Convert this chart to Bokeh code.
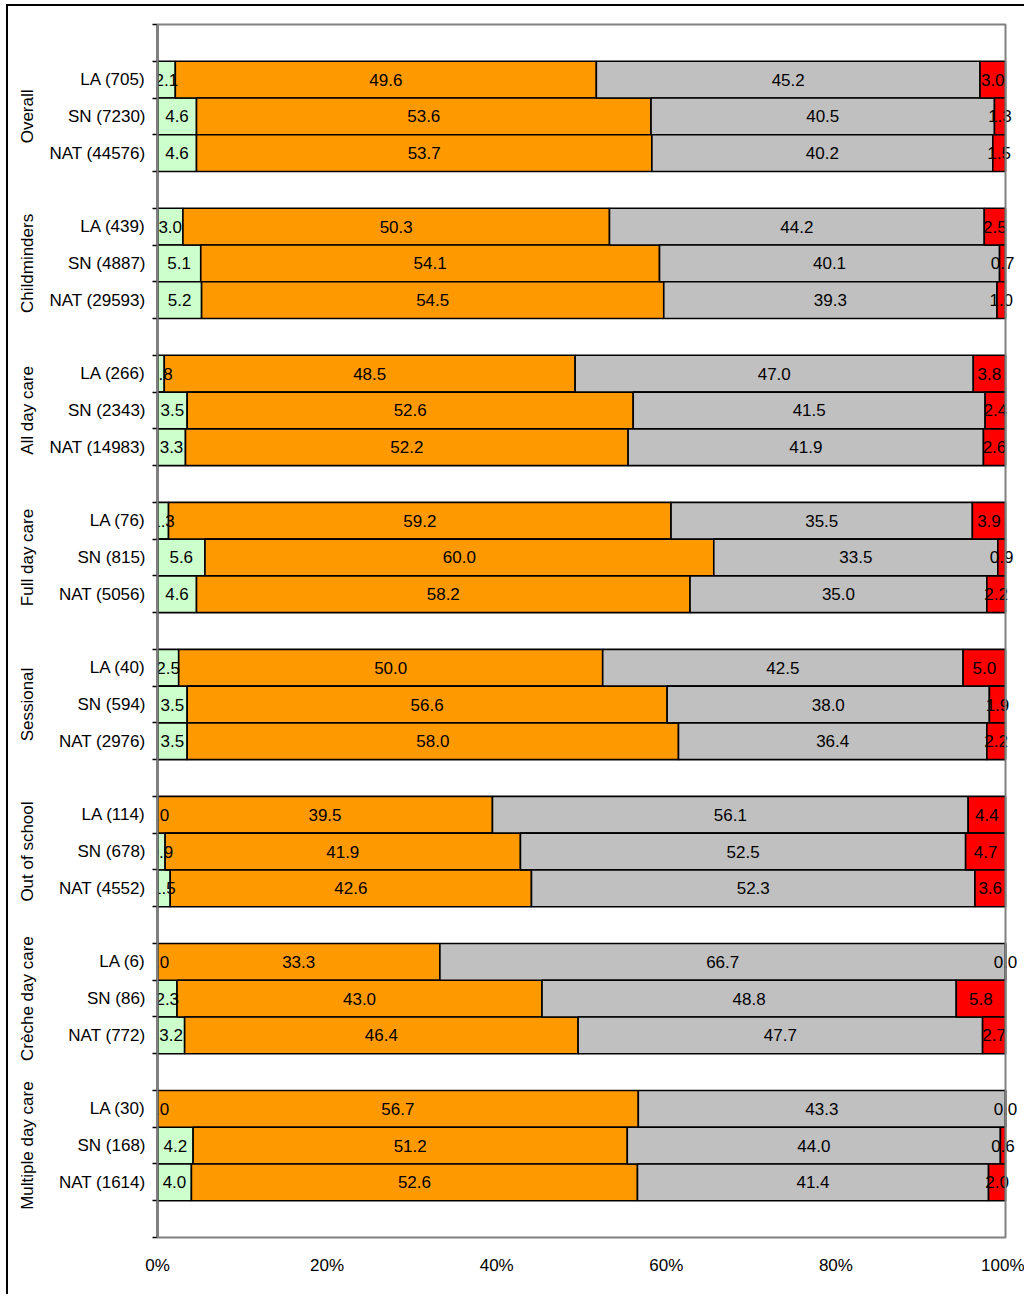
import numpy as np
from bokeh.plotting import figure
from bokeh.models import (ColumnDataSource, LabelSet, FixedTicker, Range1d,
                          PrintfTickFormatter, LinearAxis)
from bokeh.core.properties import value
from bokeh.embed import file_html
from bokeh.resources import INLINE

groups = ["Overall", "Childminders", "All day care", "Full day care", "Sessional",
          "Out of school", "Crèche day care", "Multiple day care"]

row_labels = [
    "LA (705)", "SN (7230)", "NAT (44576)",
    "LA (439)", "SN (4887)", "NAT (29593)",
    "LA (266)", "SN (2343)", "NAT (14983)",
    "LA (76)", "SN (815)", "NAT (5056)",
    "LA (40)", "SN (594)", "NAT (2976)",
    "LA (114)", "SN (678)", "NAT (4552)",
    "LA (6)", "SN (86)", "NAT (772)",
    "LA (30)", "SN (168)", "NAT (1614)",
]

green = [2.1, 4.6, 4.6, 3.0, 5.1, 5.2, 0.8, 3.5, 3.3, 1.3, 5.6, 4.6,
         2.5, 3.5, 3.5, 0.0, 0.9, 1.5, 0.0, 2.3, 3.2, 0.0, 4.2, 4.0]
orange = [49.6, 53.6, 53.7, 50.3, 54.1, 54.5, 48.5, 52.6, 52.2, 59.2, 60.0, 58.2,
          50.0, 56.6, 58.0, 39.5, 41.9, 42.6, 33.3, 43.0, 46.4, 56.7, 51.2, 52.6]
grey = [45.2, 40.5, 40.2, 44.2, 40.1, 39.3, 47.0, 41.5, 41.9, 35.5, 33.5, 35.0,
        42.5, 38.0, 36.4, 56.1, 52.5, 52.3, 66.7, 48.8, 47.7, 43.3, 44.0, 41.4]
red = [3.0, 1.3, 1.5, 2.5, 0.7, 1.0, 3.8, 2.4, 2.6, 3.9, 0.9, 2.2,
       5.0, 1.9, 2.2, 4.4, 4.7, 3.6, 0.0, 5.8, 2.7, 0.0, 0.6, 2.0]

series = [green, orange, grey, red]
series_colors = ["#CCFFCC", "#FF9900", "#C0C0C0", "#FF0000"]

FONT = "Liberation Sans"
FS = "17px"

n_rows = len(row_labels)
n_slots = 1 + 4 * len(groups)
ys = [1 + 4 * (i // 3) + (i % 3) + 0.5 for i in range(n_rows)]

vals = np.array(series, dtype=float)  # 4 x n
totals = vals.sum(axis=0)
pct = vals / totals * 100.0
rights = np.cumsum(pct, axis=0)
lefts = rights - pct

W, H = 1018, 1290
BL, BR, BT, BB = 149, 0, 18, 59
frame_w = W - BL - BR
x_end = 100.0 * frame_w / 848.0   # room right of 100% for overflowing labels

p = figure(width=W, height=H, output_backend="svg", toolbar_location=None,
           x_range=Range1d(0, x_end), y_range=Range1d(n_slots, 0),
           min_border_left=BL, min_border_right=BR, min_border_top=BT, min_border_bottom=BB,
           styles={"margin-left": "6px", "margin-top": "4px",
                   "border-left": "2px solid black", "border-top": "2px solid black"})

p.outline_line_color = None
p.xgrid.visible = False
p.ygrid.visible = False

lab_x, lab_y, lab_t = [], [], []
for k in range(4):
    src = ColumnDataSource(dict(y=ys, left=lefts[k], right=rights[k]))
    p.hbar(y="y", left="left", right="right", height=1.0, source=src,
           fill_color=series_colors[k], line_color="black", line_width=1.6)
    for i in range(n_rows):
        lab_x.append((lefts[k][i] + rights[k][i]) / 2)
        lab_y.append(ys[i])
        lab_t.append("%.1f" % series[k][i])

lsrc = ColumnDataSource(dict(x=lab_x, y=lab_y, t=lab_t))
p.add_layout(LabelSet(x="x", y="y", text="t", source=lsrc, level="glyph",
                      text_align="center", text_baseline="middle",
                      text_font=value(FONT), text_font_size=FS, text_color="black"))

# plot-area border (0..100%, all slots), drawn above the labels
p.quad(left=[0], right=[100], top=[0], bottom=[n_slots], fill_color=None,
       line_color="#808080", line_width=2, level="annotation")

# y axis (row labels)
p.yaxis.ticker = FixedTicker(ticks=ys, minor_ticks=list(range(n_slots + 1)))
p.yaxis.major_label_overrides = {y: t for y, t in zip(ys, row_labels)}
p.yaxis.major_tick_line_color = None
p.yaxis.major_tick_out = 0
p.yaxis.major_tick_in = 0
p.yaxis.minor_tick_out = 5
p.yaxis.minor_tick_in = 0
p.yaxis.minor_tick_line_color = "black"
p.yaxis.minor_tick_line_width = 1.5
p.yaxis.axis_line_color = "black"
p.yaxis.axis_line_width = 2
p.yaxis.major_label_standoff = 7
p.yaxis.major_label_text_font = FONT
p.yaxis.major_label_text_font_size = FS
p.yaxis.major_label_text_color = "black"

# group axis (rotated group names)
gy = [1 + 4 * g + 1.5 for g in range(len(groups))]
gax = LinearAxis(ticker=FixedTicker(ticks=gy, minor_ticks=[]),
                 major_label_overrides={y: t for y, t in zip(gy, groups)},
                 major_label_orientation="parallel",
                 axis_line_color=None, major_tick_line_color=None,
                 minor_tick_line_color=None, major_tick_out=0, major_tick_in=0,
                 major_label_standoff=9,
                 major_label_text_font=FONT, major_label_text_font_size=FS,
                 major_label_text_color="black")
p.add_layout(gax, "left")

# x axis
p.xaxis.ticker = FixedTicker(ticks=[0, 20, 40, 60, 80, 100], minor_ticks=[])
p.xaxis.formatter = PrintfTickFormatter(format="%d%%")
p.xaxis.axis_line_color = None
p.xaxis.major_tick_line_color = None
p.xaxis.major_tick_out = 0
p.xaxis.major_tick_in = 0
p.xaxis.minor_tick_line_color = None
p.xaxis.major_label_standoff = 18
p.xaxis.major_label_text_font = FONT
p.xaxis.major_label_text_font_size = FS
p.xaxis.major_label_text_color = "black"

open("out.html", "w").write(file_html(p, INLINE))
